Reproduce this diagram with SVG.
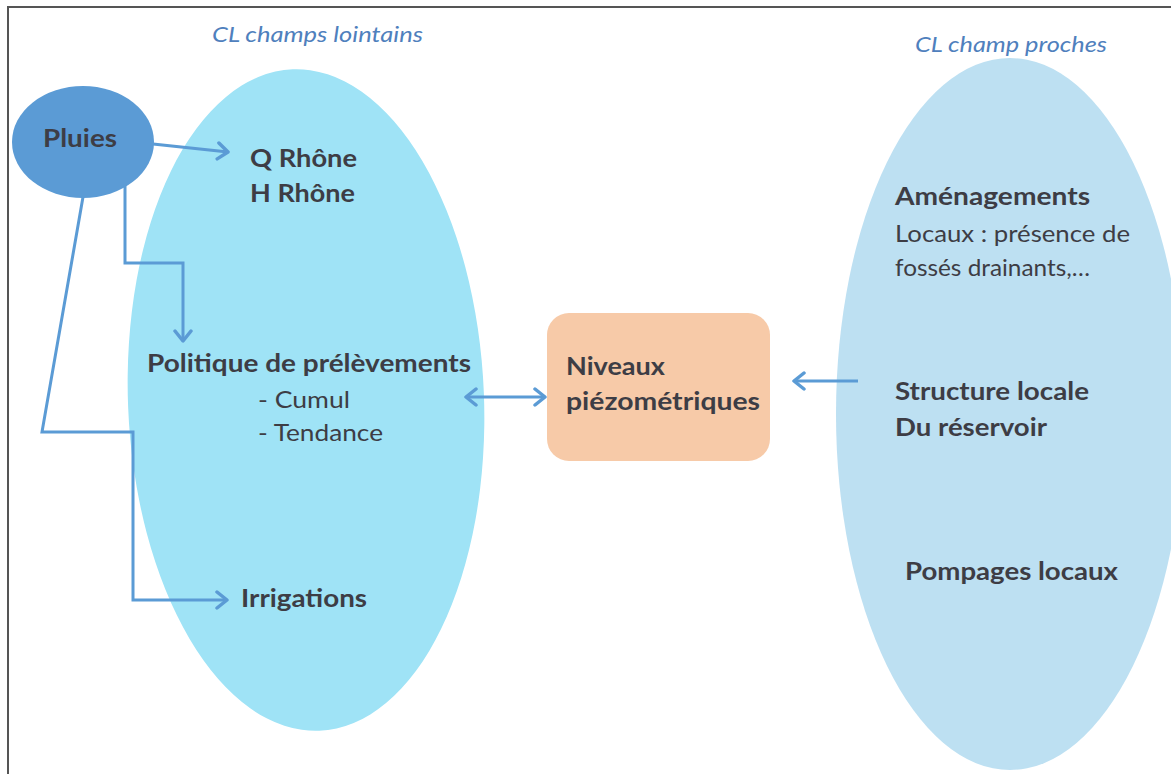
<svg xmlns="http://www.w3.org/2000/svg" width="1171" height="774" viewBox="0 0 1171 774">
<style>
.t{font-family:Lato,"Open Sans","Liberation Sans",sans-serif;fill:#3d3d45}
.b{font-weight:bold;font-size:24px}
.r{font-size:23px}
.h{font-family:Lato,"Open Sans","Liberation Sans",sans-serif;font-style:italic;font-size:21px;fill:#4f80bd}
.c{fill:none;stroke:#5b9bd5;stroke-width:3}
</style>
<defs>
<marker id="ah" markerUnits="userSpaceOnUse" markerWidth="18" markerHeight="20" refX="13" refY="10" orient="auto-start-reverse">
<path d="M3,2 L13,10 L3,18" fill="none" stroke="#5b9bd5" stroke-width="3.5" stroke-linecap="round" stroke-linejoin="round"/>
</marker>
</defs>
<rect width="1171" height="774" fill="#ffffff"/>
<rect x="8" y="7" width="1175" height="790" fill="none" stroke="#555" stroke-width="2"/>
<g id="zone-lointains">
<ellipse cx="306" cy="400" rx="178" ry="331" transform="rotate(-2.3 306 400)" fill="#9fe3f6"/>
<text class="h" x="212" y="42" textLength="211" lengthAdjust="spacingAndGlyphs">CL champs lointains</text>
</g>
<g id="zone-proches">
<ellipse cx="1010" cy="414" rx="174" ry="356" fill="#bde0f2"/>
<text class="h" x="915" y="52" textLength="192" lengthAdjust="spacingAndGlyphs">CL champ proches</text>
</g>
<g id="pluies">
<ellipse cx="83" cy="142" rx="71" ry="56" fill="#5b9bd5"/>
<text class="t b" x="43" y="147" textLength="74" lengthAdjust="spacingAndGlyphs">Pluies</text>
</g>
<g id="rhone">
<text class="t b" x="250" y="167" textLength="107" lengthAdjust="spacingAndGlyphs">Q Rhône</text>
<text class="t b" x="250" y="202" textLength="105" lengthAdjust="spacingAndGlyphs">H Rhône</text>
</g>
<g id="politique">
<text class="t b" x="147" y="372" textLength="324" lengthAdjust="spacingAndGlyphs">Politique de prélèvements</text>
<text class="t r" x="258" y="408" textLength="92" lengthAdjust="spacingAndGlyphs">- Cumul</text>
<text class="t r" x="258" y="441" textLength="125" lengthAdjust="spacingAndGlyphs">- Tendance</text>
</g>
<g id="irrigations">
<text class="t b" x="241" y="607" textLength="126" lengthAdjust="spacingAndGlyphs">Irrigations</text>
</g>
<g id="niveaux">
<rect x="547" y="313" width="223" height="148" rx="22" fill="#f7caa8"/>
<text class="t b" x="566" y="375" textLength="99" lengthAdjust="spacingAndGlyphs">Niveaux</text>
<text class="t b" x="566" y="410" textLength="194" lengthAdjust="spacingAndGlyphs">piézométriques</text>
</g>
<g id="amenagements">
<text class="t b" x="895" y="205" textLength="195" lengthAdjust="spacingAndGlyphs">Aménagements</text>
<text class="t r" x="895" y="242" textLength="235" lengthAdjust="spacingAndGlyphs">Locaux : présence de</text>
<text class="t r" x="895" y="276" textLength="195" lengthAdjust="spacingAndGlyphs">fossés drainants,…</text>
</g>
<g id="structure">
<text class="t b" x="895" y="400" textLength="194" lengthAdjust="spacingAndGlyphs">Structure locale</text>
<text class="t b" x="895" y="436" textLength="152" lengthAdjust="spacingAndGlyphs">Du réservoir</text>
</g>
<g id="pompages">
<text class="t b" x="905" y="580" textLength="213" lengthAdjust="spacingAndGlyphs">Pompages locaux</text>
</g>
<g id="connectors">
<path class="c" d="M153,144 L228,152" marker-end="url(#ah)"/>
<path class="c" d="M125,184 L125,263 L183,263 L183,341" marker-end="url(#ah)"/>
<path class="c" d="M83,197 L42,432 L133,432 L133,600 L227,600" marker-end="url(#ah)"/>
<path class="c" d="M466,397 L545,397" marker-start="url(#ah)" marker-end="url(#ah)"/>
<path class="c" d="M858,381 L794,381" marker-end="url(#ah)"/>
</g>
</svg>
